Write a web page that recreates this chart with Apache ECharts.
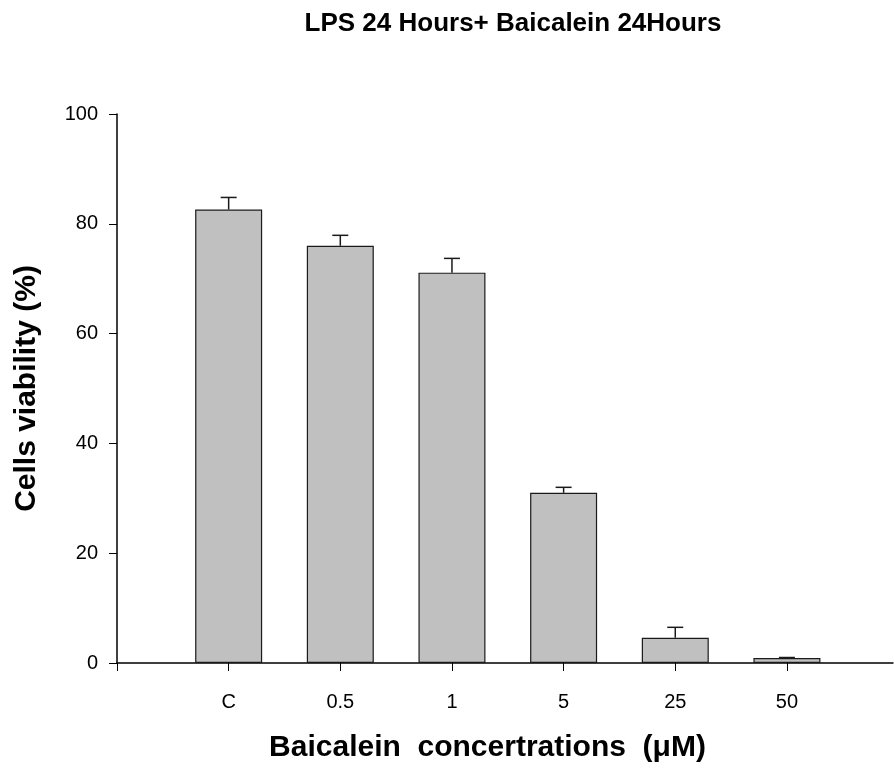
<!DOCTYPE html>
<html>
<head>
<meta charset="utf-8">
<title>LPS 24 Hours+ Baicalein 24Hours</title>
<script src="https://cdn.jsdelivr.net/npm/echarts@6/dist/echarts.min.js"></script>
<style>
  html, body { margin: 0; padding: 0; background: #fff; }
  #chart { width: 894px; height: 773px; }
</style>
</head>
<body>
<div id="chart"></div>
<script>
// Baicalein concentrations (µM); "C" is the untreated control
var concentrations = ['C', '0.5', '1', '5', '25', '50'];
// Mean cell viability (%)
var viability = [82.6, 76.0, 71.1, 31.0, 4.6, 0.9];
// Upper error (SEM, %)
var errors = [2.2, 1.9, 2.6, 1.0, 1.9, 0.1];
// Y-axis ticks
var yTicks = [0, 20, 40, 60, 80, 100];

var FONT = '"Liberation Sans", Arial, Helvetica, sans-serif';

// each concentration sits at an integer slot (1..n) on a numeric x axis
var barData = viability.map(function (v, i) { return [i + 1, v]; });
var errData = viability.map(function (v, i) { return [i + 1, v, errors[i]]; });
var tickSlots = [0].concat(concentrations.map(function (c, i) { return i + 1; }));
var labelSlots = concentrations.map(function (c, i) { return i + 1; });

var chart = echarts.init(document.getElementById('chart'), null, { renderer: 'canvas' });

chart.setOption({
  animation: false,
  backgroundColor: '#ffffff',
  title: {
    text: 'LPS 24 Hours+ Baicalein 24Hours',
    left: 508,
    top: 6,
    textAlign: 'center',
    textStyle: { fontFamily: FONT, fontWeight: 'bold', fontSize: 26, color: '#000' }
  },
  grid: { left: 117, right: 1, top: 114, bottom: 110, containLabel: false },
  xAxis: {
    type: 'value',
    min: 0,
    max: 6.95,
    name: 'Baicalein  concertrations  (\u03bcM)',
    nameLocation: 'middle',
    nameGap: 70,
    nameTextStyle: { fontFamily: FONT, fontWeight: 'bold', fontSize: 30, color: '#000', padding: [0, 35, 0, 0] },
    axisLine: { show: true, onZero: false, lineStyle: { color: '#000', width: 1.5 } },
    axisTick: { show: true, inside: false, length: 8, customValues: tickSlots, lineStyle: { color: '#000', width: 1 } },
    axisLabel: {
      show: true,
      margin: 29,
      customValues: labelSlots,
      fontFamily: FONT, fontSize: 20, color: '#000',
      formatter: function (v) { return concentrations[Math.round(v) - 1] || ''; }
    },
    splitLine: { show: false }
  },
  yAxis: {
    type: 'value',
    min: yTicks[0],
    max: yTicks[yTicks.length - 1],
    interval: yTicks[1] - yTicks[0],
    name: 'Cells viability (%)',
    nameLocation: 'middle',
    nameGap: 75,
    nameRotate: 90,
    nameTextStyle: { fontFamily: FONT, fontWeight: 'bold', fontSize: 30, color: '#000' },
    axisLine: { show: true, lineStyle: { color: '#000', width: 1.5 } },
    axisTick: { show: true, inside: false, length: 8, lineStyle: { color: '#000', width: 1 } },
    axisLabel: { margin: 19, fontFamily: FONT, fontSize: 20, color: '#000' },
    splitLine: { show: false }
  },
  series: [
    {
      type: 'bar',
      data: barData,
      barWidth: 67,
      itemStyle: { color: '#c0c0c0', borderColor: '#1a1a1a', borderWidth: 1.2 },
      z: 2
    },
    {
      // upper error bars with caps
      type: 'custom',
      data: errData,
      z: 3,
      renderItem: function (params, api) {
        var x = api.value(0);
        var base = api.coord([x, api.value(1)]);
        var top = api.coord([x, api.value(1) + api.value(2)]);
        var half = 8;
        var style = { stroke: '#1a1a1a', lineWidth: 1.5 };
        return {
          type: 'group',
          children: [
            { type: 'line', shape: { x1: base[0], y1: base[1], x2: top[0], y2: top[1] }, style: style },
            { type: 'line', shape: { x1: top[0] - half, y1: top[1], x2: top[0] + half, y2: top[1] }, style: style }
          ]
        };
      }
    }
  ]
});
</script>
</body>
</html>
